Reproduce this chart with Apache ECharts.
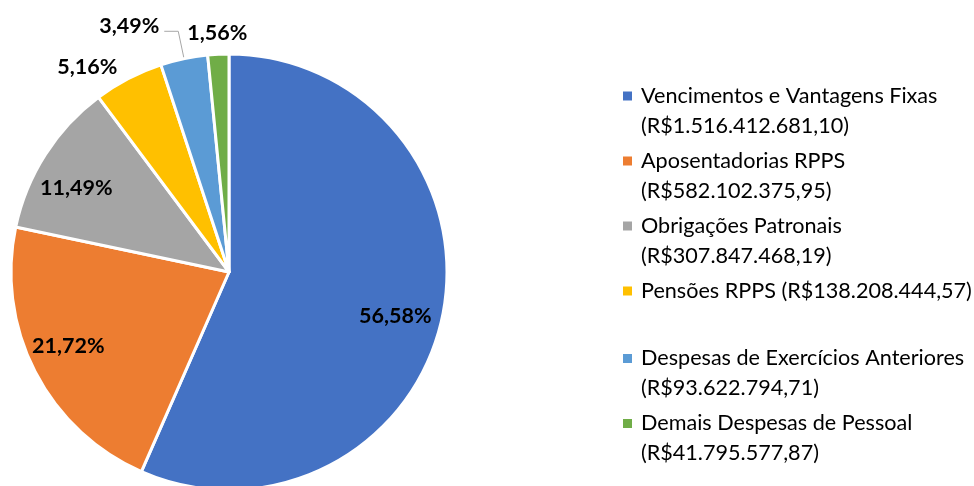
<!DOCTYPE html>
<html>
<head>
<meta charset="utf-8">
<script src="https://cdn.jsdelivr.net/npm/echarts@6/dist/echarts.min.js"></script>
<style>html,body{margin:0;padding:0;background:#fff}#c{width:974px;height:486px}</style>
</head>
<body>
<div id="c"></div>
<script>
const categories = ['Vencimentos e Vantagens Fixas', 'Aposentadorias RPPS', 'Obrigações Patronais', 'Pensões RPPS', 'Despesas de Exercícios Anteriores', 'Demais Despesas de Pessoal'];
const values = [1516412681.10, 582102375.95, 307847468.19, 138208444.57, 93622794.71, 41795577.87];
const colors = ['#4472C4', '#ED7D31', '#A5A5A5', '#FFC000', '#5B9BD5', '#70AD47'];

function brl(v) {
  const s = v.toFixed(2).split('.');
  return 'R$' + s[0].replace(/\B(?=(\d{3})+(?!\d))/g, '.') + ',' + s[1];
}
function pct(p) { return p.percent.toFixed(2).replace('.', ',') + '%'; }

const FONT = 'Lato';
const labelFont = { fontFamily: FONT, fontWeight: 'bold', fontSize: 21.5, color: '#000' };

const rich = {
  t: { fontFamily: FONT, fontSize: 21.6, color: '#000', lineHeight: 30 },
  gap: { width: 9 },
  pad: { width: 18 },
  blank: { fontSize: 20, lineHeight: 37 }
};
colors.forEach((c, i) => { rich['sq' + i] = { width: 9, height: 9, backgroundColor: c, verticalAlign: 'middle' }; });

const outsideCfg = {
  3: { length: 13, length2: 0, showLine: false },
  4: { length: 28, length2: 14, showLine: true },
  5: { length: 21, length2: 0, showLine: false }
};
// small label nudges (px) to mimic the original label placement
const nudge = { main: { 4: [0, -5], 5: [35, 0] }, overlay: { 0: [-4, 8], 1: [-6, -5], 2: [-6, 10] } };

const mainData = categories.map((n, i) => {
  const o = outsideCfg[i];
  const d = { name: n, value: values[i], itemStyle: { color: colors[i] } };
  if (o) {
    d.label = Object.assign({ show: true, position: 'outside', formatter: pct, distanceToLabelLine: 5 }, labelFont);
    d.labelLine = { show: o.showLine, length: o.length, length2: o.length2, smooth: false, lineStyle: { color: '#A6A6A6', width: 1 } };
  } else {
    d.label = { show: false };
    d.labelLine = { show: false };
  }
  return d;
});

const overlayData = categories.map((n, i) => ({
  name: n, value: values[i],
  label: outsideCfg[i] ? { show: false } : Object.assign({ show: true, position: 'inside', formatter: pct }, labelFont)
}));

function mover(key) {
  return function (p) {
    const n = nudge[key][p.dataIndex];
    return n ? { dx: n[0], dy: n[1] } : {};
  };
}

const chart = echarts.init(document.getElementById('c'), null, { renderer: 'canvas' });
chart.setOption({
  animation: false,
  legend: {
    orient: 'vertical',
    left: 616,
    top: 85,
    padding: 0,
    itemGap: 13,
    itemWidth: 1,
    itemHeight: 1,
    icon: 'rect',
    itemStyle: { opacity: 0 },
    selectedMode: false,
    data: categories,
    formatter: function (name) {
      const i = categories.indexOf(name);
      if (i === 3) return '{sq3|}{gap|}{t|' + name + ' (' + brl(values[i]) + ')}\n{blank| }';
      return '{sq' + i + '|}{gap|}{t|' + name + '}\n{pad|}{t|(' + brl(values[i]) + ')}';
    },
    textStyle: { rich: rich }
  },
  series: [
    {
      type: 'pie',
      center: [229, 272],
      radius: 218,
      startAngle: 90,
      clockwise: true,
      avoidLabelOverlap: false,
      percentPrecision: 2,
      itemStyle: { borderColor: '#fff', borderWidth: 3 },
      emphasis: { disabled: true },
      labelLayout: mover('main'),
      data: mainData
    },
    {
      type: 'pie',
      center: [229, 272],
      radius: [124, 218],
      startAngle: 90,
      clockwise: true,
      avoidLabelOverlap: false,
      percentPrecision: 2,
      silent: true,
      itemStyle: { color: 'rgba(0,0,0,0)', borderWidth: 0 },
      emphasis: { disabled: true },
      labelLine: { show: false },
      labelLayout: mover('overlay'),
      data: overlayData
    }
  ]
});
</script>
</body>
</html>
